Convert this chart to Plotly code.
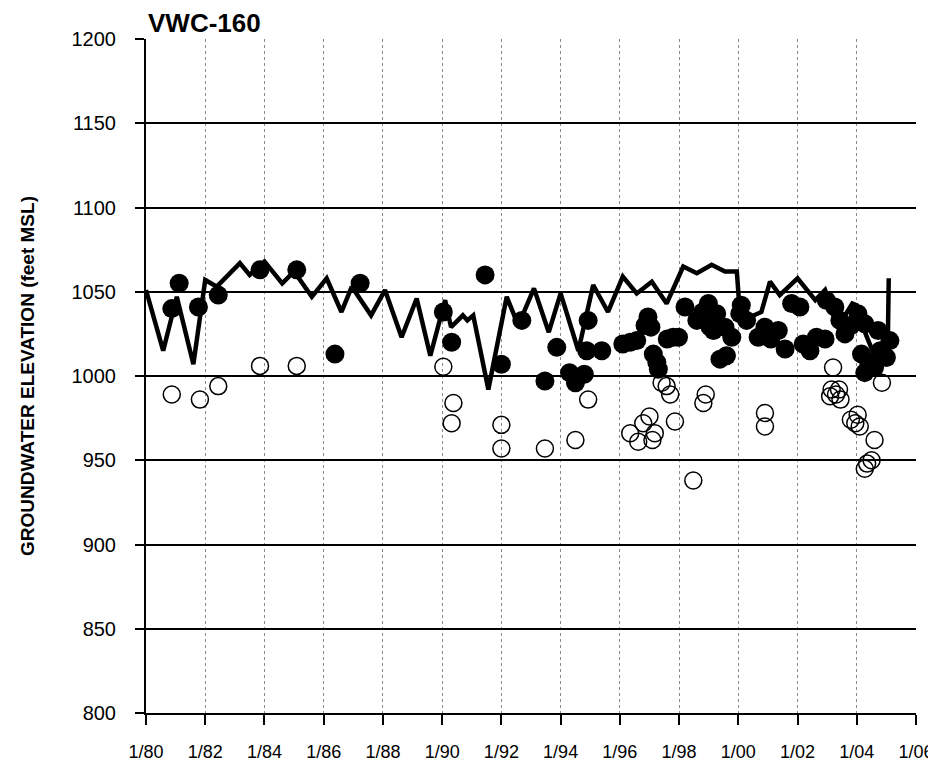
import plotly.graph_objects as go

# ---- data (decimal year, feet MSL) ----
line_year = [1980.0, 1980.58, 1981.04, 1981.6, 1982.0, 1982.39, 1983.17, 1983.5, 1984.0, 1984.6,
             1985.0, 1985.6, 1986.1, 1986.6, 1986.95, 1987.6, 1988.07, 1988.63, 1989.14, 1989.6,
             1990.1, 1990.3, 1990.7, 1990.85, 1991.05, 1991.56, 1992.18, 1992.57, 1993.1, 1993.6,
             1994.0, 1994.6, 1995.1, 1995.6, 1996.1, 1996.57, 1997.08, 1997.58, 1998.14, 1998.6,
             1999.1, 1999.55, 1999.95, 2000.02, 2000.4, 2000.78, 2001.07, 2001.4, 2002.0, 2002.6,
             2002.93, 2003.3, 2003.6, 2003.85, 2004.0, 2004.3, 2004.6, 2004.9, 2005.05, 2005.08]
line_elev = [1051, 1015, 1047, 1007, 1057, 1053, 1067, 1060, 1068, 1055,
             1062, 1047, 1058, 1038, 1053, 1036, 1051, 1023, 1046, 1012,
             1045, 1029, 1036, 1033, 1036, 992, 1047, 1030, 1052, 1026,
             1049, 1015, 1054, 1038, 1059, 1049, 1056, 1043, 1065, 1061,
             1066, 1062, 1062, 1045, 1035, 1038, 1056, 1048, 1058, 1045,
             1051, 1032, 1036, 1043, 1042, 1025, 1012, 1018, 1022, 1058]

filled_year = [1980.87, 1981.12, 1981.77, 1982.44, 1983.85, 1985.09, 1986.38, 1987.23, 1990.04, 1990.32,
               1991.45, 1992.0, 1992.69, 1993.47, 1993.87, 1994.3, 1994.5, 1994.8, 1994.88, 1994.93,
               1995.39, 1996.1, 1996.35, 1996.57, 1996.85, 1996.95, 1997.05, 1997.13, 1997.25, 1997.3,
               1997.6, 1997.8, 1997.98, 1998.2, 1998.6, 1998.8, 1998.99, 1999.05, 1999.16, 1999.27,
               1999.38, 1999.55, 1999.6, 1999.78, 2000.05, 2000.1, 2000.28, 2000.67, 2000.9, 2001.1,
               2001.35, 2001.58, 2001.8, 2002.08, 2002.19, 2002.42, 2002.64, 2002.93, 2002.97, 2003.26,
               2003.43, 2003.6, 2003.8, 2004.04, 2004.16, 2004.27, 2004.27, 2004.4, 2004.6, 2004.72,
               2004.79, 2005.0, 2005.12]
filled_elev = [1040, 1055, 1041, 1048, 1063, 1063, 1013, 1055, 1038, 1020,
               1060, 1007, 1033, 997, 1017, 1002, 996, 1001, 1015, 1033,
               1015, 1019, 1020, 1021, 1030, 1035, 1029, 1013, 1008, 1004,
               1022, 1023, 1023, 1041, 1033, 1038, 1043, 1029, 1027, 1037,
               1010, 1029, 1012, 1023, 1037, 1042, 1033, 1023, 1029, 1022,
               1027, 1016, 1043, 1041, 1019, 1015, 1023, 1022, 1045, 1041,
               1033, 1025, 1030, 1037, 1013, 1031, 1002, 1008, 1005, 1027,
               1015, 1011, 1021]

open_year = [1980.87, 1981.82, 1982.44, 1983.85, 1985.09, 1990.04, 1990.32, 1990.38, 1992.0, 1992.0,
             1993.47, 1994.5, 1994.93, 1996.35, 1996.62, 1996.79, 1997.0, 1997.1, 1997.18, 1997.41,
             1997.58, 1997.7, 1997.86, 1998.48, 1998.82, 1998.9, 2000.9, 2000.9, 2003.1, 2003.15,
             2003.2, 2003.3, 2003.4, 2003.45, 2003.8, 2003.95, 2004.03, 2004.1, 2004.27, 2004.35,
             2004.5, 2004.6, 2004.85]
open_elev = [989, 986, 994, 1006, 1006, 1005.5, 972, 984, 971, 957,
             957, 962, 986, 966, 961, 972, 976, 962, 966, 996,
             994, 989, 973, 938, 984, 989, 978, 970, 988, 992,
             1005, 989, 992, 986, 974, 972, 977, 970, 945, 948,
             950, 962, 996]

tick_vals = list(range(1980, 2007, 2))
tick_text = ["1/80", "1/82", "1/84", "1/86", "1/88", "1/90", "1/92", "1/94",
             "1/96", "1/98", "1/00", "1/02", "1/04", "1/06"]
y_ticks = list(range(800, 1201, 50))

FONT = "Liberation Sans, Arial, sans-serif"

fig = go.Figure()
fig.add_trace(go.Scatter(x=line_year, y=line_elev, mode="lines",
                         line=dict(color="black", width=4.5), showlegend=False))
fig.add_trace(go.Scatter(x=open_year, y=open_elev, mode="markers",
                         marker=dict(symbol="circle-open", size=17, color="black",
                                     line=dict(width=1.5, color="black")),
                         showlegend=False))
fig.add_trace(go.Scatter(x=filled_year, y=filled_elev, mode="markers",
                         marker=dict(symbol="circle", size=19, color="black"),
                         showlegend=False))

# page has an 8px body margin: figure is 928x760 placed at (8, 8)
W, H = 928, 760
fig.update_layout(
    width=W, height=H,
    margin=dict(l=138, r=20, t=31, b=55),
    paper_bgcolor="white", plot_bgcolor="white",
    font=dict(family=FONT, color="black"),
    title=dict(text="<b>VWC-160</b>", x=140 / W, xref="container", xanchor="left",
               y=1 - 15 / H, yref="container", yanchor="middle",
               font=dict(size=26, family=FONT, color="black")),
    xaxis=dict(range=[1980, 2006], tickvals=tick_vals, ticktext=tick_text,
               showgrid=True, gridcolor="#8a8a8a", gridwidth=1, griddash="dot",
               showline=True, linecolor="black", linewidth=2,
               ticks="outside", ticklen=10, tickwidth=2, tickcolor="black",
               tickfont=dict(size=18), ticklabelstandoff=11, zeroline=False,
               automargin=False),
    yaxis=dict(range=[800, 1200], tickvals=y_ticks,
               showgrid=True, gridcolor="black", gridwidth=2,
               showline=True, linecolor="black", linewidth=2,
               ticks="outside", ticklen=9, tickwidth=2, tickcolor="black",
               tickfont=dict(size=20), ticklabelstandoff=15, zeroline=False,
               automargin=False,
               title=dict(text="<b>GROUNDWATER ELEVATION (feet MSL)</b>",
                          font=dict(size=19), standoff=32)),
)

fig.write_html("out.html")
